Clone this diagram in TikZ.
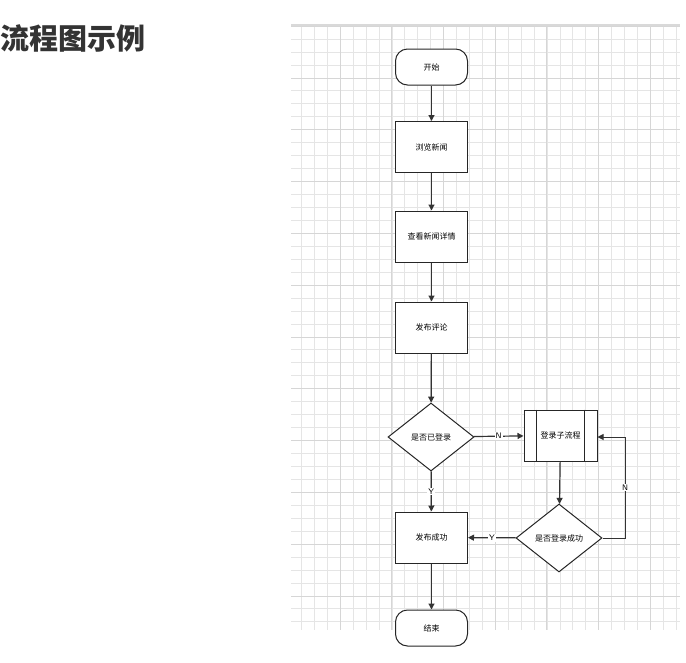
\documentclass[tikz,border=0pt]{standalone}
\usepackage{fontspec}
\newfontfamily\cjk{Noto Sans CJK SC}
\usetikzlibrary{shapes.geometric,arrows.meta}
\begin{document}
\begin{tikzpicture}[x=1pt,y=-1pt,
  box/.style={draw=black!85,line width=1pt,fill=white,minimum width=72pt,minimum height=51pt,inner sep=0pt,font=\cjk\fontsize{8}{9}\selectfont},
  term/.style={box,rounded corners=12pt,minimum height=36pt},
  dec/.style={draw=black!85,line width=1pt,fill=white,diamond,aspect=1.27,minimum width=86pt,minimum height=68pt,inner sep=0pt,font=\cjk\fontsize{8}{9}\selectfont},
  arr/.style={draw=black!80,line width=1.2pt,-{Triangle[length=6pt,width=6pt]}},
  lbl/.style={fill=white,inner sep=1pt,font=\sffamily\fontsize{8}{9}\selectfont}]
\useasboundingbox (0,0) rectangle (686,662);
\node[anchor=west,font=\cjk\bfseries\fontsize{29}{32}\selectfont,text=black!80,inner sep=0pt] (title) at (0,38) {流程图示例};
% grid
\begin{scope}
\clip (291,25) rectangle (680,630);
\foreach \x in {0,...,32} \draw[black!10,line width=0.6pt] (288.5+12.92*\x,25) -- (288.5+12.92*\x,630);
\foreach \y in {0,...,47} \draw[black!10,line width=0.6pt] (291,26+12.95*\y) -- (680,26+12.95*\y);
\foreach \x in {-1,...,7} \draw[black!16,line width=0.9pt] (340+51.7*\x,25) -- (340+51.7*\x,630);
\foreach \y in {-1,...,11} \draw[black!16,line width=0.9pt] (291,78+51.8*\y) -- (680,78+51.8*\y);
\end{scope}
\draw[black!15,line width=1.5pt] (291,25) -- (680,25);
% nodes
\node[term] (start) at (431.5,67) {开始};
\node[box] (b1) at (431.5,147) {浏览新闻};
\node[box] (b2) at (431.5,236.5) {查看新闻详情};
\node[box] (b3) at (431.5,327.5) {发布评论};
\node[dec] (d1) at (431,437) {是否已登录};
\node[box,minimum width=73pt] (sub) at (560.5,435.5) {登录子流程};
\draw[black!85,line width=1pt] ([xshift=13pt]sub.north west) -- ([xshift=13pt]sub.south west)
  ([xshift=-13pt]sub.north east) -- ([xshift=-13pt]sub.south east);
\node[dec] (d2) at (559,538) {是否登录成功};
\node[box] (ok) at (431.5,537.5) {发布成功};
\node[term] (end) at (431.5,628) {结束};
% edges
\draw[arr] (start) -- (b1);
\draw[arr] (b1) -- (b2);
\draw[arr] (b2) -- (b3);
\draw[arr] (b3) -- (d1);
\draw[arr] (d1) -- node[lbl] {N} (sub);
\draw[arr] (d1) -- node[lbl] {Y} (ok);
\draw[arr] (sub) -- (d2);
\draw[arr] (d2) -- node[lbl] {Y} (ok);
\coordinate (c1) at (625,538);
\coordinate (c2) at (625,437);
\draw[arr,line width=1pt] (d2.east) -- (c1) -- node[lbl] {N} (c2) -- (sub.east |- c2);
\draw[arr] (ok) -- (end);
\end{tikzpicture}
\end{document}
